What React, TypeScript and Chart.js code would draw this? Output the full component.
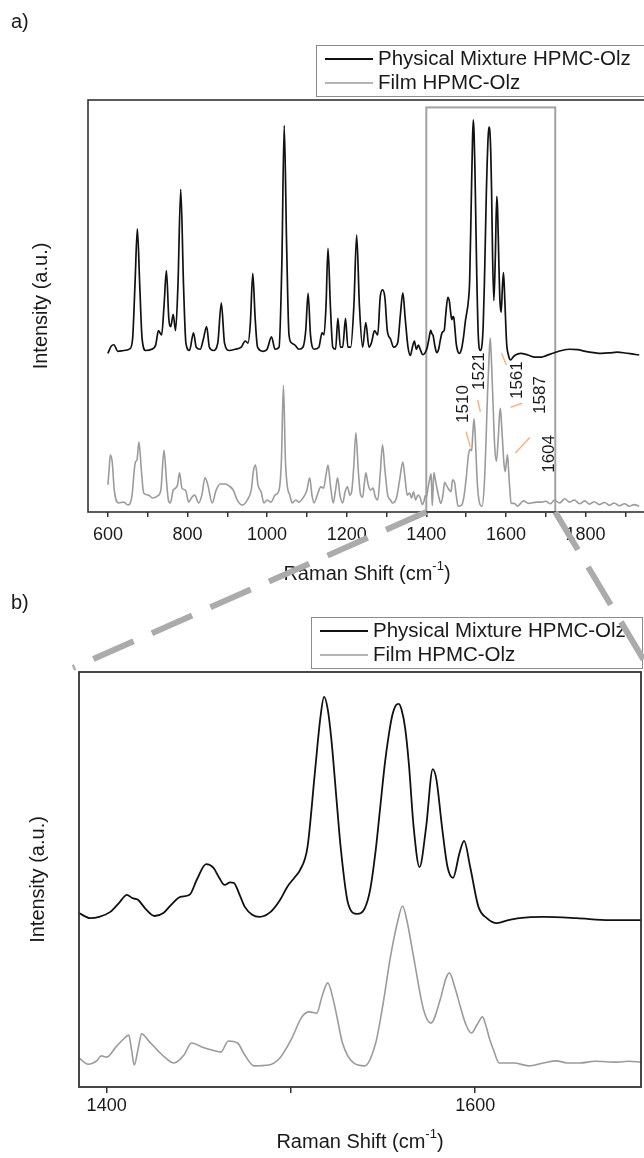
import React, { useEffect, useRef } from 'react';
import { Chart, registerables } from 'chart.js';

Chart.register(...registerables);

const FONT = '"Liberation Sans", Arial, Helvetica, sans-serif';

// ---------- series labels ----------
const seriesNames = ['Physical Mixture HPMC-Olz', 'Film HPMC-Olz'];

// ---------- panel a: Physical Mixture HPMC-Olz (Raman shift, intensity a.u.) ----------
const mixAx = [600, 608, 615, 625, 640, 655, 662, 668, 674, 680, 686, 695, 710, 720, 727, 735, 741, 747, 753, 758, 764, 770, 776, 783, 790, 796, 805, 815, 822, 832, 840, 848, 855, 865, 876, 885, 893, 905, 920, 935, 945, 952, 958, 964, 970, 976, 990, 1000, 1011, 1020, 1030, 1037, 1043, 1049, 1055, 1062, 1070, 1080, 1090, 1097, 1103, 1109, 1118, 1130, 1138, 1143, 1148, 1153, 1159, 1165, 1172, 1178, 1184, 1190, 1197, 1203, 1210, 1218, 1225, 1232, 1240, 1248, 1256, 1262, 1270, 1278, 1284, 1290, 1296, 1302, 1310, 1318, 1328, 1335, 1341, 1347, 1354, 1360, 1365, 1370, 1375, 1380, 1385, 1391, 1396, 1402, 1407, 1411, 1414, 1417, 1421, 1426, 1431, 1435, 1440, 1445, 1449, 1454, 1458, 1461, 1464, 1467, 1469, 1472, 1475, 1479, 1483, 1489, 1494, 1498, 1502, 1505, 1509, 1513, 1516, 1518, 1520, 1522, 1525, 1527, 1531, 1536, 1540, 1543, 1546, 1548.5, 1551, 1553, 1555, 1557, 1558.5, 1560, 1562, 1564, 1566.6, 1569.8, 1573.4, 1577, 1579, 1582, 1585, 1588, 1591.5, 1594, 1597.3, 1601.8, 1606.3, 1611.8, 1618, 1624, 1637, 1655, 1673, 1690, 1700, 1720, 1740, 1760, 1780, 1800, 1820, 1840, 1860, 1880, 1900, 1920, 1935];
const mixAy = [38.5, 40.2, 40.6, 39.0, 39.2, 39.6, 42, 55, 68.7, 55, 42, 39.2, 39.5, 40.5, 44, 43, 50, 58.6, 47, 45, 48, 44, 55, 78.3, 55, 41, 39.2, 43.5, 40, 39.5, 42, 45, 40, 39.2, 41, 50.7, 41, 39.2, 39.5, 40, 41.5, 41, 46, 57.9, 47, 40, 39, 39.5, 42.5, 39.5, 40, 60, 93.8, 65, 43, 41, 40.5, 39.5, 40, 44, 53.1, 43, 39.5, 40, 43.5, 43, 50, 64, 50, 40, 39.5, 47, 40, 40, 47, 40, 40, 50, 67.2, 50, 40, 46, 40, 41, 44, 43, 52, 53.9, 52, 44, 42, 40, 41, 48, 53.2, 47, 40, 38, 40, 41.5, 39.5, 40.5, 39.4, 38.2, 38.5, 39.8, 42.2, 44.1, 43.3, 42.9, 40.6, 38.7, 39.5, 41.6, 43.6, 44.1, 48.1, 52.1, 51.1, 48.6, 46.7, 47.4, 47.2, 44.4, 41.0, 39.0, 38.5, 39.8, 42.8, 46.2, 48.6, 50.6, 56.4, 75.6, 89.8, 95.2, 92.0, 84.1, 67.4, 56.4, 42.0, 39.2, 40.6, 45.4, 55.6, 66.8, 78.1, 85.0, 90.4, 93.0, 93.4, 92.0, 87.2, 78.1, 61.7, 51.3, 61.7, 76.6, 73.8, 61.7, 51.3, 48.5, 55.0, 58.1, 51.3, 41.0, 38.1, 36.9, 37.6, 38.1, 38.5, 38.1, 37.6, 37.6, 37.9, 38.6, 39.2, 39.5, 39.4, 39.0, 38.7, 38.5, 38.6, 38.8, 38.6, 38.3, 38.1];

// ---------- panel a: Film HPMC-Olz ----------
const filmAx = [600, 603, 606, 611, 616, 627, 640, 650, 660, 669, 673, 678, 684, 690, 702, 712, 725, 733, 741, 747, 752, 757, 764, 770, 775, 780, 786, 795, 803, 811, 818, 828, 836, 844, 851, 862, 872, 882, 895, 905, 915, 925, 938, 950, 960, 966, 971, 977, 985, 992, 1000, 1010, 1020, 1030, 1036, 1041, 1046, 1051, 1057, 1063, 1072, 1080, 1090, 1100, 1107, 1113, 1118, 1126, 1135, 1142, 1148, 1153, 1159, 1166, 1172, 1177, 1183, 1190, 1196, 1202, 1208, 1213, 1218, 1223, 1229, 1235, 1240, 1244, 1248, 1254, 1260, 1266, 1272, 1278, 1284, 1290, 1296, 1303, 1310, 1315, 1325, 1333, 1341, 1347, 1352, 1358, 1363, 1368, 1373, 1379, 1385, 1390, 1395, 1397, 1400, 1405, 1409, 1412, 1413.5, 1415, 1417, 1419, 1423, 1427.5, 1432, 1436.5, 1442, 1446, 1452, 1458, 1462, 1466, 1471, 1475, 1480, 1488, 1494, 1500, 1506, 1510, 1514, 1517, 1520, 1523, 1525, 1528, 1534, 1540, 1546, 1550, 1554, 1558, 1560.6, 1563, 1566.6, 1572, 1576, 1581, 1584, 1586, 1589, 1592, 1595, 1598, 1601, 1604, 1606, 1608, 1610, 1613, 1621, 1629, 1637, 1644, 1657, 1677, 1690, 1700, 1712, 1722, 1735, 1748, 1760, 1772, 1785, 1798, 1810, 1822, 1835, 1848, 1860, 1872, 1885, 1898, 1910, 1922, 1935];
const filmAy = [6.6, 10.2, 13.8, 12, 5.3, 2.2, 2.4, 1.7, 3.6, 12.1, 12.6, 17.0, 10.2, 4.6, 4.1, 3.4, 3.9, 5.3, 15.0, 7.8, 2.9, 2.2, 5.3, 5.8, 6.6, 9.5, 5.8, 5.3, 2.4, 3.6, 4.1, 2.2, 4.1, 8.3, 6.6, 2.2, 5.3, 6.8, 6.8, 6.3, 5.3, 2.9, 1.7, 2.9, 5.3, 10.2, 11.4, 6.6, 4.9, 2.2, 2.9, 2.4, 4.1, 5.3, 12.6, 30.8, 12.6, 6.1, 4.1, 2.2, 2.9, 2.4, 3.4, 5.3, 8.3, 3.9, 2.2, 4.1, 6.1, 5.8, 9.0, 11.4, 6.6, 2.2, 5.3, 8.3, 4.1, 2.2, 4.9, 6.1, 4.1, 5.3, 11.4, 19.2, 10.2, 4.1, 3.6, 6.6, 9.5, 6.6, 5.3, 5.8, 3.6, 2.9, 9.0, 16.3, 10.2, 4.1, 2.9, 2.2, 3.4, 7.8, 12.1, 7.8, 4.1, 4.6, 3.4, 4.9, 2.9, 4.1, 3.4, 1.8, 2.9, 4.0, 3.6, 6.2, 8.2, 9.3, 5.5, 1.6, 5.5, 9.6, 7.7, 5.4, 3.4, 2.1, 4.2, 7.2, 6.2, 5.3, 4.9, 7.8, 7.2, 4.2, 1.4, 1.6, 3.4, 8.0, 13.9, 15.2, 14.9, 19.3, 22.6, 18.3, 13.9, 7.2, 2.1, 1.4, 7.2, 17.2, 29.2, 38.4, 42.2, 38.4, 29.2, 15.7, 12.3, 18.3, 23.6, 25.2, 21.4, 16.5, 11.9, 9.8, 11.9, 13.9, 11.4, 8.0, 5.4, 2.1, 2.1, 1.4, 2.1, 2.7, 2.1, 2.4, 2.4, 2.6, 2.0, 2.9, 2.2, 3.2, 2.4, 2.9, 2.0, 2.7, 1.9, 2.5, 1.8, 2.3, 1.6, 2.2, 1.5, 2.0, 1.4, 1.8, 1.4];

// ---------- panel b (zoom 1385-1690): Physical Mixture HPMC-Olz ----------
const mixBx = [1385, 1391, 1396, 1402, 1407, 1411, 1414, 1417, 1421, 1426, 1431, 1435, 1440, 1445, 1449, 1454, 1458, 1461, 1464, 1467, 1469, 1472, 1475, 1479, 1483, 1489, 1494, 1498, 1502, 1505, 1509, 1513, 1516, 1518, 1520, 1522, 1525, 1527, 1531, 1536, 1540, 1543, 1546, 1548.5, 1551, 1553, 1555, 1557, 1558.5, 1560, 1562, 1564, 1566.6, 1569.8, 1573.4, 1577, 1579, 1582, 1585, 1588, 1591.5, 1594, 1597.3, 1601.8, 1606.3, 1611.8, 1618, 1624, 1637, 1655, 1673, 1690];
const mixBy = [41.9, 40.7, 41.0, 42.2, 44.5, 46.3, 45.5, 45.1, 43.0, 41.2, 42.0, 43.9, 45.8, 46.3, 50.0, 53.7, 52.8, 50.5, 48.7, 49.3, 49.2, 46.5, 43.4, 41.5, 41.0, 42.2, 45.0, 48.2, 50.5, 52.3, 57.8, 75.7, 89, 94.0, 91, 83.6, 68, 57.8, 44.3, 41.7, 43.0, 47.5, 57, 67.5, 78, 84.5, 89.5, 92, 92.3, 91, 86.5, 78, 62.7, 53.0, 62.7, 76.6, 74, 62.7, 53, 50.4, 56.4, 59.3, 53.0, 43.4, 40.7, 39.5, 40.2, 40.7, 41.0, 40.7, 40.2, 40.2];

// ---------- panel b: Film HPMC-Olz ----------
const filmBx = [1385, 1390, 1395, 1397, 1400, 1405, 1409, 1412, 1413.5, 1415, 1417, 1419, 1423, 1427.5, 1432, 1436.5, 1442, 1446, 1452, 1458, 1462, 1466, 1471, 1475, 1480, 1488, 1494, 1500, 1506, 1510, 1514, 1517, 1520, 1523, 1525, 1528, 1534, 1540, 1546, 1550, 1554, 1558, 1560.6, 1563, 1566.6, 1572, 1576, 1581, 1584, 1586, 1589, 1592, 1595, 1598, 1601, 1604, 1606, 1608, 1610, 1613, 1621, 1629, 1637, 1644, 1650, 1657, 1665, 1677, 1683, 1690];
const filmBy = [7.0, 5.5, 6.5, 7.5, 7.2, 9.6, 11.5, 12.5, 9, 5.3, 9, 12.8, 11, 8.9, 7.0, 5.8, 7.7, 10.6, 9.6, 8.8, 8.4, 11.1, 10.6, 7.7, 5.1, 5.3, 7.0, 11.3, 16.9, 18.1, 17.8, 22, 25.1, 21, 16.9, 10.6, 5.8, 5.1, 10.6, 20, 31.3, 40, 43.6, 40, 31.3, 18.6, 15.4, 21.0, 26, 27.5, 24, 19.3, 15, 13.0, 15, 16.9, 14.5, 11.3, 8.9, 5.8, 5.8, 5.1, 5.8, 6.3, 5.8, 5.8, 6.2, 6.0, 6.2, 6.0];

// ---------- axes ----------
const xRangeA = [550, 1952];
const xRangeB = [1385, 1690];
const tickPosA = [600, 700, 800, 900, 1000, 1100, 1200, 1300, 1400, 1500, 1600, 1700, 1800, 1900];
const tickLabelsA = [600, 800, 1000, 1200, 1400, 1600, 1800];
const tickPosB = [1400, 1500, 1600];
const tickLabelsB = [1400, 1600];
const zoomBox = [1400, 1724, 98.2, 0];

// ---------- peak annotations in panel a ----------
const peakLabels = ['1510', '1521', '1561', '1587', '1604'];
const peakLabelX = [1493, 1532, 1628, 1687, 1710];
const peakLabelY = [26.2, 34.2, 32.0, 28.4, 14.1];
const leaderX1 = [1499.7, 1528.9, 1588.6, 1611.3, 1623.9];
const leaderY1 = [19.5, 27.2, 38.6, 25.4, 14.3];
const leaderX2 = [1510.5, 1535.7, 1601.3, 1640.8, 1659.9];
const leaderY2 = [15.8, 24.3, 35.7, 26.4, 18.1];

const B_TOP = 580;

const pts = (xs: number[], ys: number[]) => xs.map((x, i) => ({ x, y: ys[i] }));

const decor = {
  id: 'decor',
  beforeDatasetsDraw(chart: any, _a: any, o: any) {
    if (!o.zoomBox) return;
    const { ctx, scales } = chart;
    const l = scales.x.getPixelForValue(o.zoomBox[0]);
    const r = scales.x.getPixelForValue(o.zoomBox[1]);
    const t = scales.y.getPixelForValue(o.zoomBox[2]);
    const b = scales.y.getPixelForValue(o.zoomBox[3]);
    ctx.save();
    ctx.strokeStyle = '#a2a2a2';
    ctx.lineWidth = 2;
    ctx.strokeRect(l, t, r - l, b - t);
    ctx.restore();
  },
  afterDraw(chart: any, _a: any, o: any) {
    const { ctx, chartArea: ca, scales } = chart;
    ctx.save();
    // frame
    ctx.strokeStyle = '#333';
    ctx.lineWidth = o.frameWidth;
    ctx.strokeRect(ca.left, ca.top, ca.right - ca.left, ca.bottom - ca.top);

    // legend box
    const lb = ca.top - 4;
    const lt = lb - 51;
    const ll = ca.right - 330;
    ctx.lineWidth = 1;
    ctx.strokeStyle = '#8c8c8c';
    ctx.strokeRect(ll + 0.5, lt + 0.5, ca.right + 1 - ll, lb - lt);
    ctx.font = `20.5px ${FONT}`;
    ctx.textBaseline = 'middle';
    ctx.textAlign = 'left';
    chart.data.datasets.forEach((ds: any, i: number) => {
      const yy = lb - 37 + i * 24;
      ctx.strokeStyle = ds.borderColor;
      ctx.lineWidth = i === 0 ? 2 : 1.5;
      ctx.beginPath();
      ctx.moveTo(ll + 9, yy);
      ctx.lineTo(ll + 57, yy);
      ctx.stroke();
      ctx.fillStyle = '#1a1a1a';
      ctx.fillText(ds.label, ll + 62, yy);
    });

    // x title with superscript
    const main1 = 'Raman Shift (cm';
    const sup = '-1';
    const main2 = ')';
    ctx.font = `20px ${FONT}`;
    const w1 = ctx.measureText(main1).width;
    const w3 = ctx.measureText(main2).width;
    ctx.font = `13px ${FONT}`;
    const w2 = ctx.measureText(sup).width;
    const total = w1 + w2 + w3;
    const x0 = (ca.left + ca.right) / 2 - total / 2;
    ctx.fillStyle = '#1a1a1a';
    ctx.textBaseline = 'middle';
    ctx.font = `20px ${FONT}`;
    ctx.fillText(main1, x0, o.xTitleY);
    ctx.font = `13px ${FONT}`;
    ctx.fillText(sup, x0 + w1, o.xTitleY - 8);
    ctx.font = `20px ${FONT}`;
    ctx.fillText(main2, x0 + w1 + w2, o.xTitleY);

    // panel label
    ctx.font = `20px ${FONT}`;
    ctx.fillText(o.panel, 11, o.panelY);

    // peak annotations
    if (o.peaks) {
      const xs = scales.x;
      const ys = scales.y;
      ctx.strokeStyle = '#f4b183';
      ctx.lineWidth = 1.4;
      for (let i = 0; i < peakLabels.length; i++) {
        ctx.beginPath();
        ctx.moveTo(xs.getPixelForValue(leaderX1[i]), ys.getPixelForValue(leaderY1[i]));
        ctx.lineTo(xs.getPixelForValue(leaderX2[i]), ys.getPixelForValue(leaderY2[i]));
        ctx.stroke();
      }
      ctx.fillStyle = '#1a1a1a';
      ctx.font = `17px ${FONT}`;
      ctx.textAlign = 'center';
      ctx.textBaseline = 'middle';
      for (let i = 0; i < peakLabels.length; i++) {
        ctx.save();
        ctx.translate(xs.getPixelForValue(peakLabelX[i]), ys.getPixelForValue(peakLabelY[i]));
        ctx.rotate(-Math.PI / 2);
        ctx.fillText(peakLabels[i], 0, 0);
        ctx.restore();
      }
    }
    ctx.restore();
  },
};

function makeConfig(panel: 'a' | 'b'): any {
  const isA = panel === 'a';
  const mix = isA ? pts(mixAx, mixAy) : pts(mixBx, mixBy);
  const film = isA ? pts(filmAx, filmAy) : pts(filmBx, filmBy);
  const range = isA ? xRangeA : xRangeB;
  const tickPos = isA ? tickPosA : tickPosB;
  const tickLabels = isA ? tickLabelsA : tickLabelsB;
  return {
    type: 'line',
    data: {
      datasets: [
        {
          label: seriesNames[0],
          data: mix,
          borderColor: '#111111',
          borderWidth: isA ? 1.7 : 1.8,
          pointRadius: 0,
          tension: 0.3,
          cubicInterpolationMode: 'monotone',
          fill: false,
        },
        {
          label: seriesNames[1],
          data: film,
          borderColor: '#9b9b9b',
          borderWidth: 1.6,
          pointRadius: 0,
          tension: 0.3,
          cubicInterpolationMode: 'monotone',
          fill: false,
        },
      ],
    },
    options: {
      animation: false,
      responsive: false,
      events: [],
      layout: { padding: isA ? { top: 100, right: 4, left: 0, bottom: 0 } : { top: 92, right: 3, left: 0, bottom: 0 } },
      plugins: {
        legend: { display: false },
        tooltip: { enabled: false },
        decor: isA
          ? { panel: 'a)', panelY: 22, xTitleY: 574, frameWidth: 1.6, zoomBox, peaks: true }
          : { panel: 'b)', panelY: 23, xTitleY: 562, frameWidth: 1.8, zoomBox: null, peaks: false },
      },
      scales: {
        x: {
          type: 'linear',
          min: range[0],
          max: range[1],
          afterFit: (s: any) => {
            s.height = isA ? 88 : 71;
          },
          afterBuildTicks: (s: any) => {
            s.ticks = tickPos.map((v) => ({ value: v }));
          },
          grid: {
            display: true,
            drawOnChartArea: false,
            drawTicks: true,
            tickLength: isA ? 5 : 6,
            color: '#333',
            lineWidth: 1.5,
          },
          border: { display: false },
          ticks: {
            autoSkip: false,
            maxRotation: 0,
            padding: isA ? 7 : 2,
            color: '#1a1a1a',
            font: { family: FONT, size: 18 },
            callback: (v: number) => (tickLabels.includes(v) ? String(v) : ''),
          },
        },
        y: {
          type: 'linear',
          min: 0,
          max: 100,
          afterFit: (s: any) => {
            s.width = isA ? 88 : 79;
          },
          grid: { display: false },
          border: { display: false },
          ticks: { display: false },
          title: {
            display: true,
            text: 'Intensity (a.u.)',
            color: '#1a1a1a',
            font: { family: FONT, size: 20 },
            padding: { top: isA ? 29.5 : 26, bottom: 0 },
          },
        },
      },
    },
    plugins: [decor],
  };
}

export default function App() {
  const refA = useRef<HTMLCanvasElement | null>(null);
  const refB = useRef<HTMLCanvasElement | null>(null);
  const refO = useRef<HTMLCanvasElement | null>(null);

  useEffect(() => {
    const a = new Chart(refA.current as HTMLCanvasElement, makeConfig('a'));
    const b = new Chart(refB.current as HTMLCanvasElement, makeConfig('b'));
    const ov = refO.current as HTMLCanvasElement;
    const g = ov.getContext('2d') as CanvasRenderingContext2D;
    g.clearRect(0, 0, ov.width, ov.height);
    const xa: any = a.scales.x;
    const yBot = a.chartArea.bottom;
    const p1 = [xa.getPixelForValue(zoomBox[0]), yBot];
    const p2 = [xa.getPixelForValue(zoomBox[1]), yBot];
    const q1 = [b.chartArea.left - 6, b.chartArea.top + B_TOP - 4];
    const q2 = [b.chartArea.right + 10, b.chartArea.top + B_TOP];
    g.save();
    g.strokeStyle = '#ababab';
    g.lineWidth = 6;
    g.setLineDash([44, 20]);
    g.beginPath();
    g.moveTo(p1[0], p1[1]);
    g.lineTo(q1[0], q1[1]);
    g.stroke();
    g.beginPath();
    g.moveTo(p2[0], p2[1]);
    g.lineTo(q2[0], q2[1]);
    g.stroke();
    g.restore();
    return () => {
      a.destroy();
      b.destroy();
    };
  }, []);

  return (
    <div
      style={{
        position: 'absolute',
        left: 0,
        top: 0,
        width: 644,
        height: 1158,
        overflow: 'hidden',
        background: '#fff',
      }}
    >
      <canvas ref={refA} width={650} height={600} style={{ position: 'absolute', left: 0, top: 0 }} />
      <canvas ref={refB} width={644} height={578} style={{ position: 'absolute', left: 0, top: B_TOP }} />
      <canvas
        ref={refO}
        width={644}
        height={1158}
        style={{ position: 'absolute', left: 0, top: 0, pointerEvents: 'none' }}
      />
    </div>
  );
}
